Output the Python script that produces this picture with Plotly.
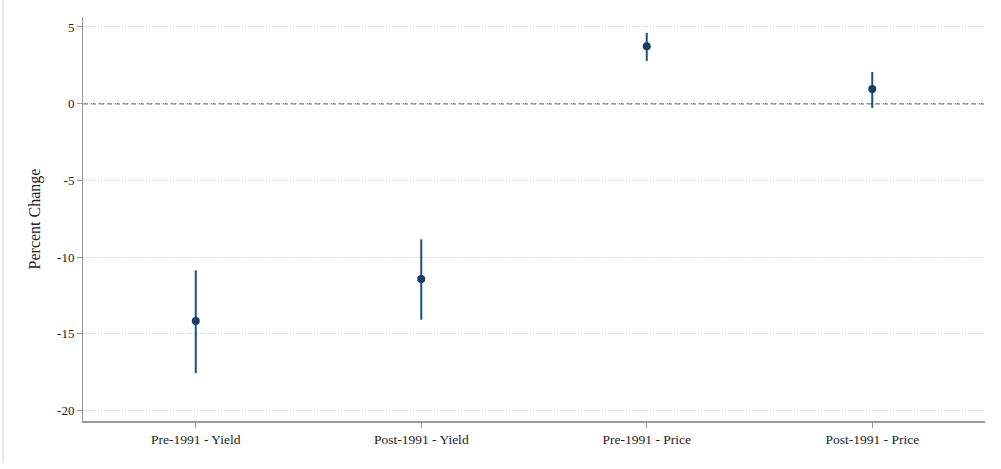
import plotly.graph_objects as go

categories = ["Pre-1991 - Yield", "Post-1991 - Yield", "Pre-1991 - Price", "Post-1991 - Price"]
estimates = [-14.17, -11.43, 3.75, 0.95]
ci_upper = [-10.86, -8.84, 4.62, 2.07]
ci_lower = [-17.56, -14.08, 2.79, -0.27]
y_ticks = [5, 0, -5, -10, -15, -20]

xpos = list(range(1, len(categories) + 1))
err_plus = [u - e for u, e in zip(ci_upper, estimates)]
err_minus = [e - l for e, l in zip(estimates, ci_lower)]

W, H = 1001, 469
L, R, T, B = 83, 16, 17, 48
plot_w = W - L - R
plot_h = H - T - B

fig = go.Figure()
fig.add_trace(go.Scatter(
    x=xpos, y=estimates, mode="markers",
    marker=dict(size=8, color="#163f66"),
    error_y=dict(type="data", symmetric=False, array=err_plus, arrayminus=err_minus,
                 width=0, thickness=2, color="#1f4f7e"),
    showlegend=False,
))

font_family = "Liberation Serif, DejaVu Serif, serif"

fig.update_layout(
    width=W, height=H,
    margin=dict(l=L, r=R, t=T, b=B, autoexpand=False),
    paper_bgcolor="white", plot_bgcolor="white",
    font=dict(family=font_family, size=13, color="#222"),
    xaxis=dict(
        range=[0.5, 4.5], tickmode="array", tickvals=xpos, ticktext=categories,
        showgrid=False, zeroline=False, showline=True, linecolor="#9a9a9a", linewidth=2,
        ticks="outside", ticklen=5, tickcolor="#9a9a9a", tickwidth=1,
        tickfont=dict(family=font_family, size=13.5, color="#222"), automargin=False,
    ),
    yaxis=dict(
        range=[-20.68, 5.65], tickmode="array", tickvals=y_ticks,
        ticktext=[str(v) for v in y_ticks],
        showgrid=True, gridcolor="#cfcfcf", griddash="1px,2px", gridwidth=1,
        zeroline=False, showline=True, linecolor="#9a9a9a", linewidth=1,
        ticks="outside", ticklen=5, tickcolor="#9a9a9a", tickwidth=1,
        tickfont=dict(family=font_family, size=13, color="#222"), automargin=False,
        title=dict(text="Percent Change", font=dict(family=font_family, size=16, color="#222"), standoff=12),
    ),
    shapes=[
        dict(type="line", xref="paper", yref="y", x0=0, x1=1, y0=0, y1=0,
             line=dict(color="#808080", width=1.5, dash="5px,3px"), layer="below"),
        dict(type="line", xref="paper", yref="paper",
             x0=(3 - L) / plot_w, x1=(3 - L) / plot_w,
             y0=(H - B - 0) / plot_h, y1=(H - B - 463) / plot_h,
             line=dict(color="#d4d4d4", width=1)),
    ],
)

fig.write_html("out.html", config={"displayModeBar": False},
               post_script="document.body.style.margin='0';")
